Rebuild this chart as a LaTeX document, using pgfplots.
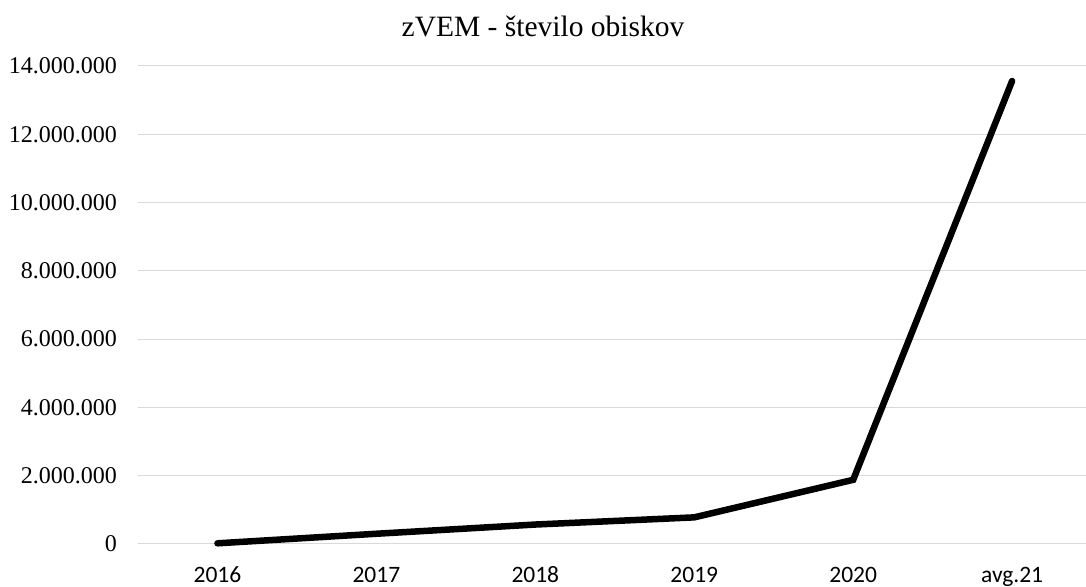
\documentclass[border=0pt]{standalone}
\usepackage{fontspec}
\setmainfont{Liberation Serif}
\newfontfamily\calibri{Carlito}
\usepackage{pgfplots}
\pgfplotsset{compat=1.18}
\begin{document}
\begin{tikzpicture}[x=1bp,y=1bp]
\useasboundingbox (0,0) rectangle (1086,587);
\node[anchor=base,inner sep=0pt,font=\fontsize{29.5bp}{32bp}\selectfont] at (543,550) {zVEM - število obiskov};
\begin{axis}[
  at={(138bp,43bp)}, anchor=south west,
  scale only axis, width=948bp, height=478bp,
  xmin=-0.5, xmax=5.465, ymin=0, ymax=14000000,
  axis line style={draw=none},
  major tick length=0pt,
  scaled y ticks=false,
  xtick={0,1,2,3,4,5},
  xticklabels={2016,2017,2018,2019,2020,avg.21},
  ytick={0,2000000,4000000,6000000,8000000,10000000,12000000,14000000},
  yticklabels={0,2.000.000,4.000.000,6.000.000,8.000.000,10.000.000,12.000.000,14.000.000},
  ymajorgrids,
  grid style={draw=black!15, line width=1bp},
  yticklabel style={anchor=east, inner sep=0pt, xshift=-21bp, font=\fontsize{24bp}{26bp}\selectfont},
  xticklabel style={anchor=base, inner sep=0pt, yshift=-39bp, font=\calibri\fontsize{23.5bp}{26bp}\selectfont},
  clip=false,
]
\addplot[black, line width=6.5bp, line cap=round, mark=none] coordinates {
  (0,20000) (1,300000) (2,570000) (3,780000) (4,1880000) (5,13560000)
};
\end{axis}
\end{tikzpicture}
\end{document}
